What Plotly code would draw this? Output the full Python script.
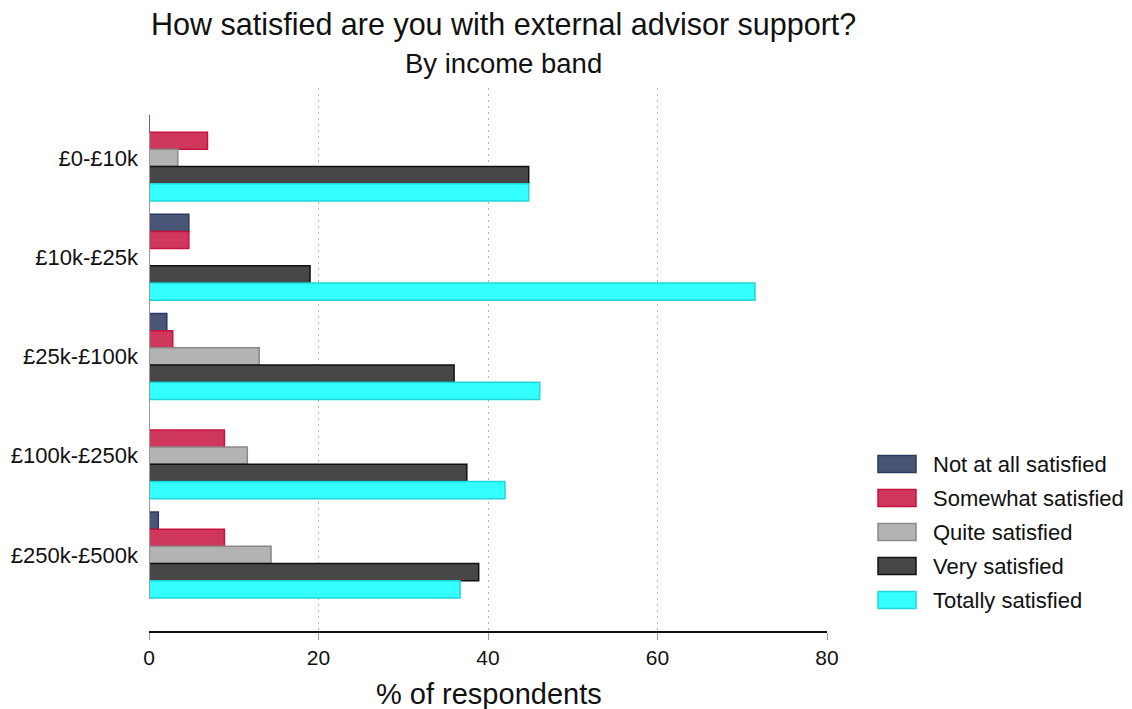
import plotly.graph_objects as go

categories = ["£0-£10k", "£10k-£25k", "£25k-£100k", "£100k-£250k", "£250k-£500k"]
series_names = ["Not at all satisfied", "Somewhat satisfied", "Quite satisfied",
                "Very satisfied", "Totally satisfied"]
not_at_all = [0.0, 4.7, 2.1, 0.0, 1.1]
somewhat = [6.9, 4.7, 2.8, 8.9, 8.9]
quite = [3.4, 0.0, 13.0, 11.6, 14.4]
very = [44.8, 19.0, 36.0, 37.5, 38.9]
totally = [44.8, 71.5, 46.1, 42.0, 36.7]
x_ticks = [0, 20, 40, 60, 80]

fills = ["#4a5677", "#cf385c", "#b3b3b3", "#474747", "#33ffff"]
borders = ["#2b3960", "#c8123e", "#8a8a8a", "#111111", "#1fd6d6"]
values = [not_at_all, somewhat, quite, very, totally]

font_family = "Liberation Sans, Arial, sans-serif"
W, H = 1124, 701
L, R, T, B = 141, 305, 80, 78
PW, PH = W - L - R, H - T - B

def px(xpix):
    return (xpix - L) / PW

def py(ypix):
    return (H - B - ypix) / PH

fig = go.Figure()
for name, vals, fc, bc in zip(series_names, values, fills, borders):
    fig.add_trace(go.Bar(
        y=categories, x=vals, name=name, orientation="h",
        marker=dict(color=fc, line=dict(color=bc, width=1.5)),
        showlegend=False,
    ))

fig.update_layout(
    width=W, height=H,
    barmode="group", bargap=0.133, bargroupgap=0.0,
    plot_bgcolor="white", paper_bgcolor="white",
    font=dict(family=font_family, color="#111111", size=20),
    margin=dict(l=L, r=R, t=T, b=B, autoexpand=False),
    showlegend=False,
    xaxis=dict(
        range=[0, 80], tickvals=x_ticks, showgrid=True,
        gridcolor="#b4b4b4", griddash="2px,4px", gridwidth=1,
        showline=True, linecolor="#111111", linewidth=2,
        ticks="outside", ticklen=7, tickcolor="#999999", tickwidth=1,
        tickfont=dict(size=21), zeroline=False, automargin=False,
    ),
    yaxis=dict(
        categoryorder="array", categoryarray=categories,
        autorange=False, range=[4.766, -0.705],
        showgrid=False, showline=False, zeroline=False,
        ticks="", tickfont=dict(size=22), ticklabelstandoff=10,
        automargin=False,
    ),
)

# y-axis line
fig.add_shape(type="line", xref="x", yref="y", x0=0, x1=0, y0=-0.26, y1=4.44,
              line=dict(color="#999999", width=2), layer="above")

# title and subtitle
fig.add_annotation(text="How satisfied are you with external advisor support?",
                   xref="paper", yref="paper", x=px(495), y=py(17),
                   xanchor="center", yanchor="middle", showarrow=False,
                   font=dict(size=30.5, family=font_family, color="#111111"))
fig.add_annotation(text="By income band",
                   xref="paper", yref="paper", x=px(495), y=py(56),
                   xanchor="center", yanchor="middle", showarrow=False,
                   font=dict(size=27.5, family=font_family, color="#111111"))
# x-axis title
fig.add_annotation(text="% of respondents",
                   xref="paper", yref="paper", x=px(481), y=py(686),
                   xanchor="center", yanchor="middle", showarrow=False,
                   font=dict(size=29, family=font_family, color="#111111"))

# custom legend
leg_y = [456, 490, 524, 558, 592]
for name, fc, bc, yc in zip(series_names, fills, borders, leg_y):
    fig.add_shape(type="rect", xref="paper", yref="paper",
                  x0=px(870), x1=px(908), y0=py(yc + 8.5), y1=py(yc - 8.5),
                  fillcolor=fc, line=dict(color=bc, width=1.5))
    fig.add_annotation(text=name, xref="paper", yref="paper",
                       x=px(923), y=py(yc), xanchor="left", yanchor="middle",
                       showarrow=False,
                       font=dict(size=22, family=font_family, color="#111111"))

fig.write_html("out.html")
